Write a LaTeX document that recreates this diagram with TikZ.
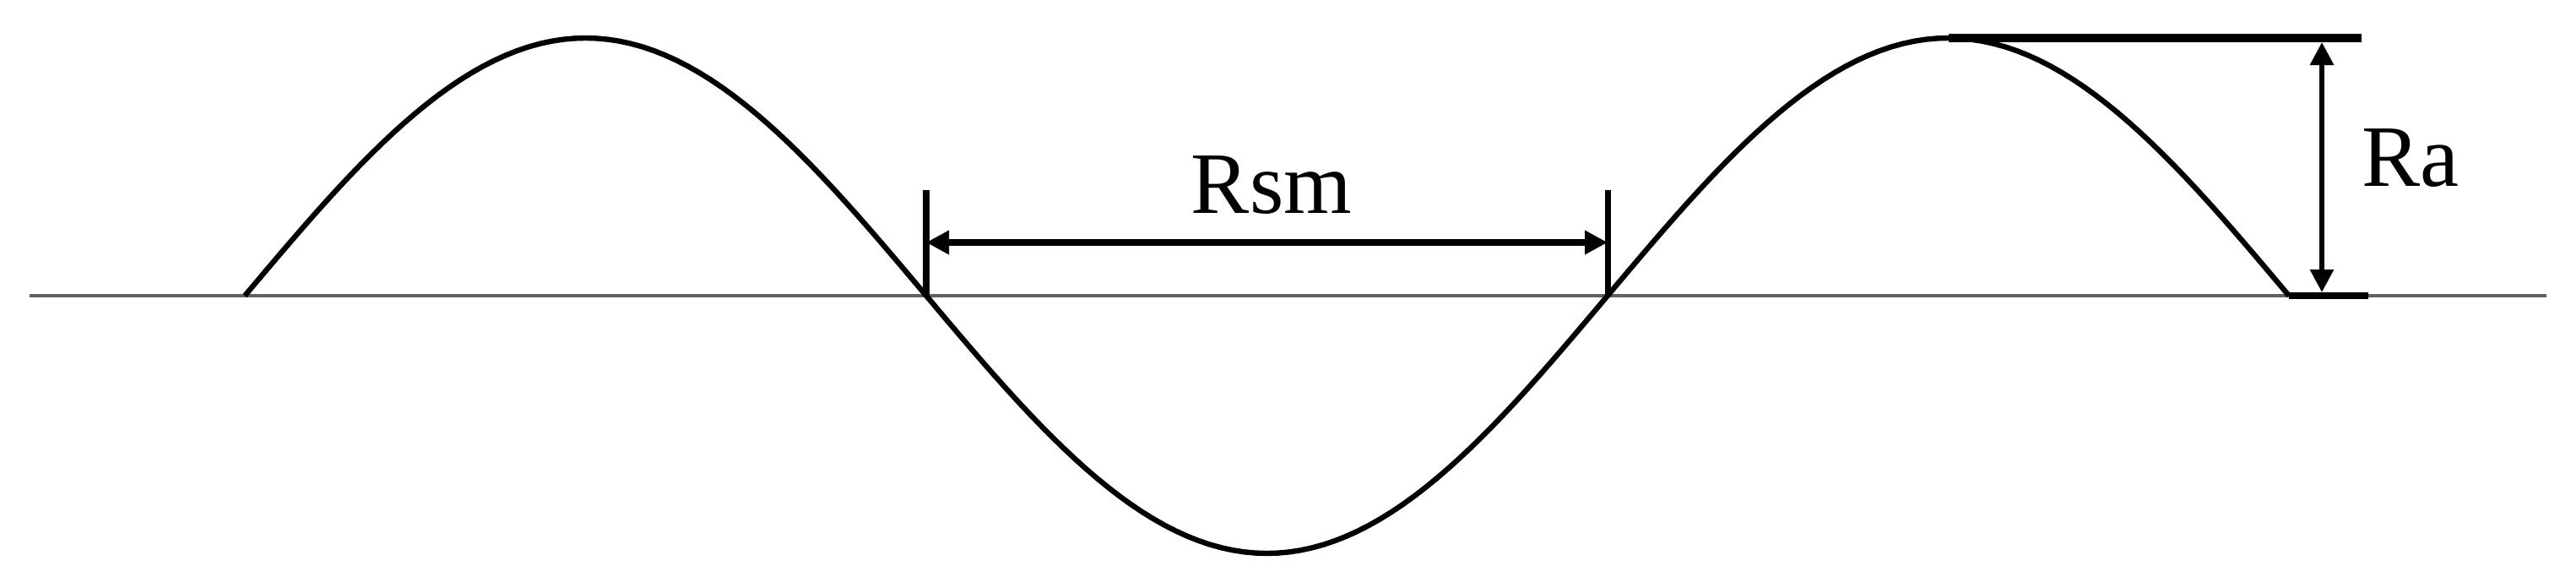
\documentclass[tikz,border=0pt]{standalone}
\usepackage{fontspec}
\setmainfont{Liberation Serif}
\usetikzlibrary{arrows.meta}

\begin{document}
\begin{tikzpicture}[>={Triangle[length=0.27cm,width=0.27cm]},
  wave/.style={line width=1.8pt,line join=round},
  axis line/.style={line width=1pt,draw=black!62},
  dim tick/.style={line width=2pt},
  dim arrow/.style={<->,line width=2.1pt},
  label node/.style={font=\fontsize{29.5}{34}\selectfont,inner sep=0pt}]
\useasboundingbox (0,0) rectangle (30.51,6.95);

% mean line
  \coordinate (axisL) at (0.35,3.45);
  \coordinate (axisR) at (30.16,3.45);
  \draw[axis line] (axisL) -- (axisR);

% profile
  \draw[wave] plot[domain=0:540,samples=181] ({2.90+\x/180*8.07},{3.45+3.05*sin(\x)});

% Rsm
  \coordinate (z1) at (10.97,3.45);
  \coordinate (z2) at (19.04,3.45);
  \coordinate (z1top) at (10.97,4.70);
  \coordinate (z2top) at (19.04,4.70);
  \coordinate (rsmL) at (10.97,4.08);
  \coordinate (rsmR) at (19.04,4.08);
  \draw[dim tick] (z1) -- (z1top);
  \draw[dim tick] (z2) -- (z2top);
  \draw[dim arrow] (rsmL) -- (rsmR);
  \node[label node,anchor=base] (rsm) at (15.06,4.43) {Rsm};

% Ra
  \coordinate (peak) at (23.075,6.50);
  \coordinate (peakR) at (27.97,6.50);
  \coordinate (z3) at (27.11,3.45);
  \coordinate (z3R) at (28.05,3.45);
  \coordinate (raTop) at (27.50,6.45);
  \coordinate (raBot) at (27.50,3.49);
  \draw[line width=2.85pt] (peak) -- (peakR);
  \draw[line width=2.3pt] (z3) -- (z3R);
  \draw[<->,line width=1.7pt] (raTop) -- (raBot);
  \node[label node,anchor=base west] (ra) at (27.97,4.75) {Ra};

\end{tikzpicture}
\end{document}
